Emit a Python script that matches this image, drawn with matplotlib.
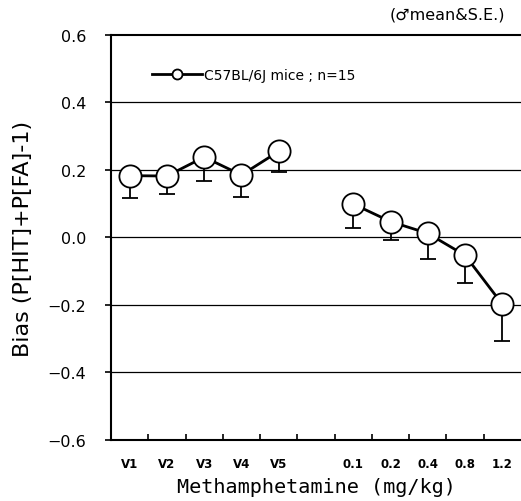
import matplotlib

matplotlib.use("Agg")
import matplotlib.pyplot as plt
from matplotlib.ticker import FixedLocator

# Vehicle sessions and methamphetamine doses (mg/kg)
vehicle_labels = ["V1", "V2", "V3", "V4", "V5"]
dose_labels = ["0.1", "0.2", "0.4", "0.8", "1.2"]

vehicle_mean = [0.183, 0.182, 0.238, 0.185, 0.255]
vehicle_se = [0.067, 0.053, 0.070, 0.064, 0.060]
dose_mean = [0.099, 0.047, 0.012, -0.053, -0.198]
dose_se = [0.070, 0.055, 0.077, 0.082, 0.110]

y_ticks = [0.6, 0.4, 0.2, 0.0, -0.2, -0.4, -0.6]
grid_levels = [0.4, 0.2, 0.0, -0.2, -0.4]

fig = plt.figure(figsize=(5.21, 5.02), dpi=100)
ax = fig.add_axes([0.213, 0.1215, 0.787, 0.807])

vx = [i + 0.5 for i in range(len(vehicle_labels))]
dx = [len(vehicle_labels) + 1 + i + 0.5 for i in range(len(dose_labels))]

for y in grid_levels:
    ax.axhline(y, color="black", lw=0.9, zorder=1)

style = dict(color="black", lw=2.0, marker="o", markersize=16,
             markerfacecolor="white", markeredgecolor="black",
             markeredgewidth=1.3, zorder=3)
err_style = dict(fmt="none", ecolor="black", elinewidth=1.3, capsize=6,
                 capthick=1.3, zorder=2)

# only the lower half of each S.E. bar is drawn
ax.errorbar(vx, vehicle_mean, yerr=[vehicle_se, [0] * len(vehicle_se)], **err_style)
ax.errorbar(dx, dose_mean, yerr=[dose_se, [0] * len(dose_se)], **err_style)
line, = ax.plot(vx, vehicle_mean, **style)
ax.plot(dx, dose_mean, **style)

ax.set_xlim(0, 11)
ax.set_ylim(-0.6, 0.6)

ax.set_xticks(vx + dx)
ax.set_xticklabels(vehicle_labels + dose_labels, fontsize=8.5, fontweight="bold")
ax.xaxis.set_minor_locator(FixedLocator(list(range(1, 11))))
ax.tick_params(axis="x", which="major", length=0, pad=12)
ax.tick_params(axis="x", which="minor", direction="in", length=4, width=1.2)

ax.set_yticks(y_ticks)
ax.set_yticklabels([f"{v:.1f}".replace("-", "\u2212") for v in y_ticks], fontsize=11.5)
ax.tick_params(axis="y", direction="out", length=4, width=1.2, pad=14)

for side in ("left", "bottom", "top"):
    ax.spines[side].set_linewidth(1.5)
ax.spines["right"].set_visible(False)

ax.set_xlabel("Methamphetamine (mg/kg)", family="DejaVu Sans Mono", fontsize=14.5, labelpad=5)
ax.set_ylabel("Bias (P[HIT]+P[FA]-1)", fontsize=16)
ax.yaxis.set_label_coords(-0.19, 0.5)

ax.legend([line], ["C57BL/6J mice ; n=15"], loc="upper left",
          bbox_to_anchor=(0.07, 0.95), frameon=False, markerscale=0.45,
          handlelength=3.6, handletextpad=0.1, fontsize=10)

fig.text(0.97, 0.97, "(\u2642mean&S.E.)", ha="right", va="center", fontsize=11.5)

fig.savefig("out.png", dpi=100)
